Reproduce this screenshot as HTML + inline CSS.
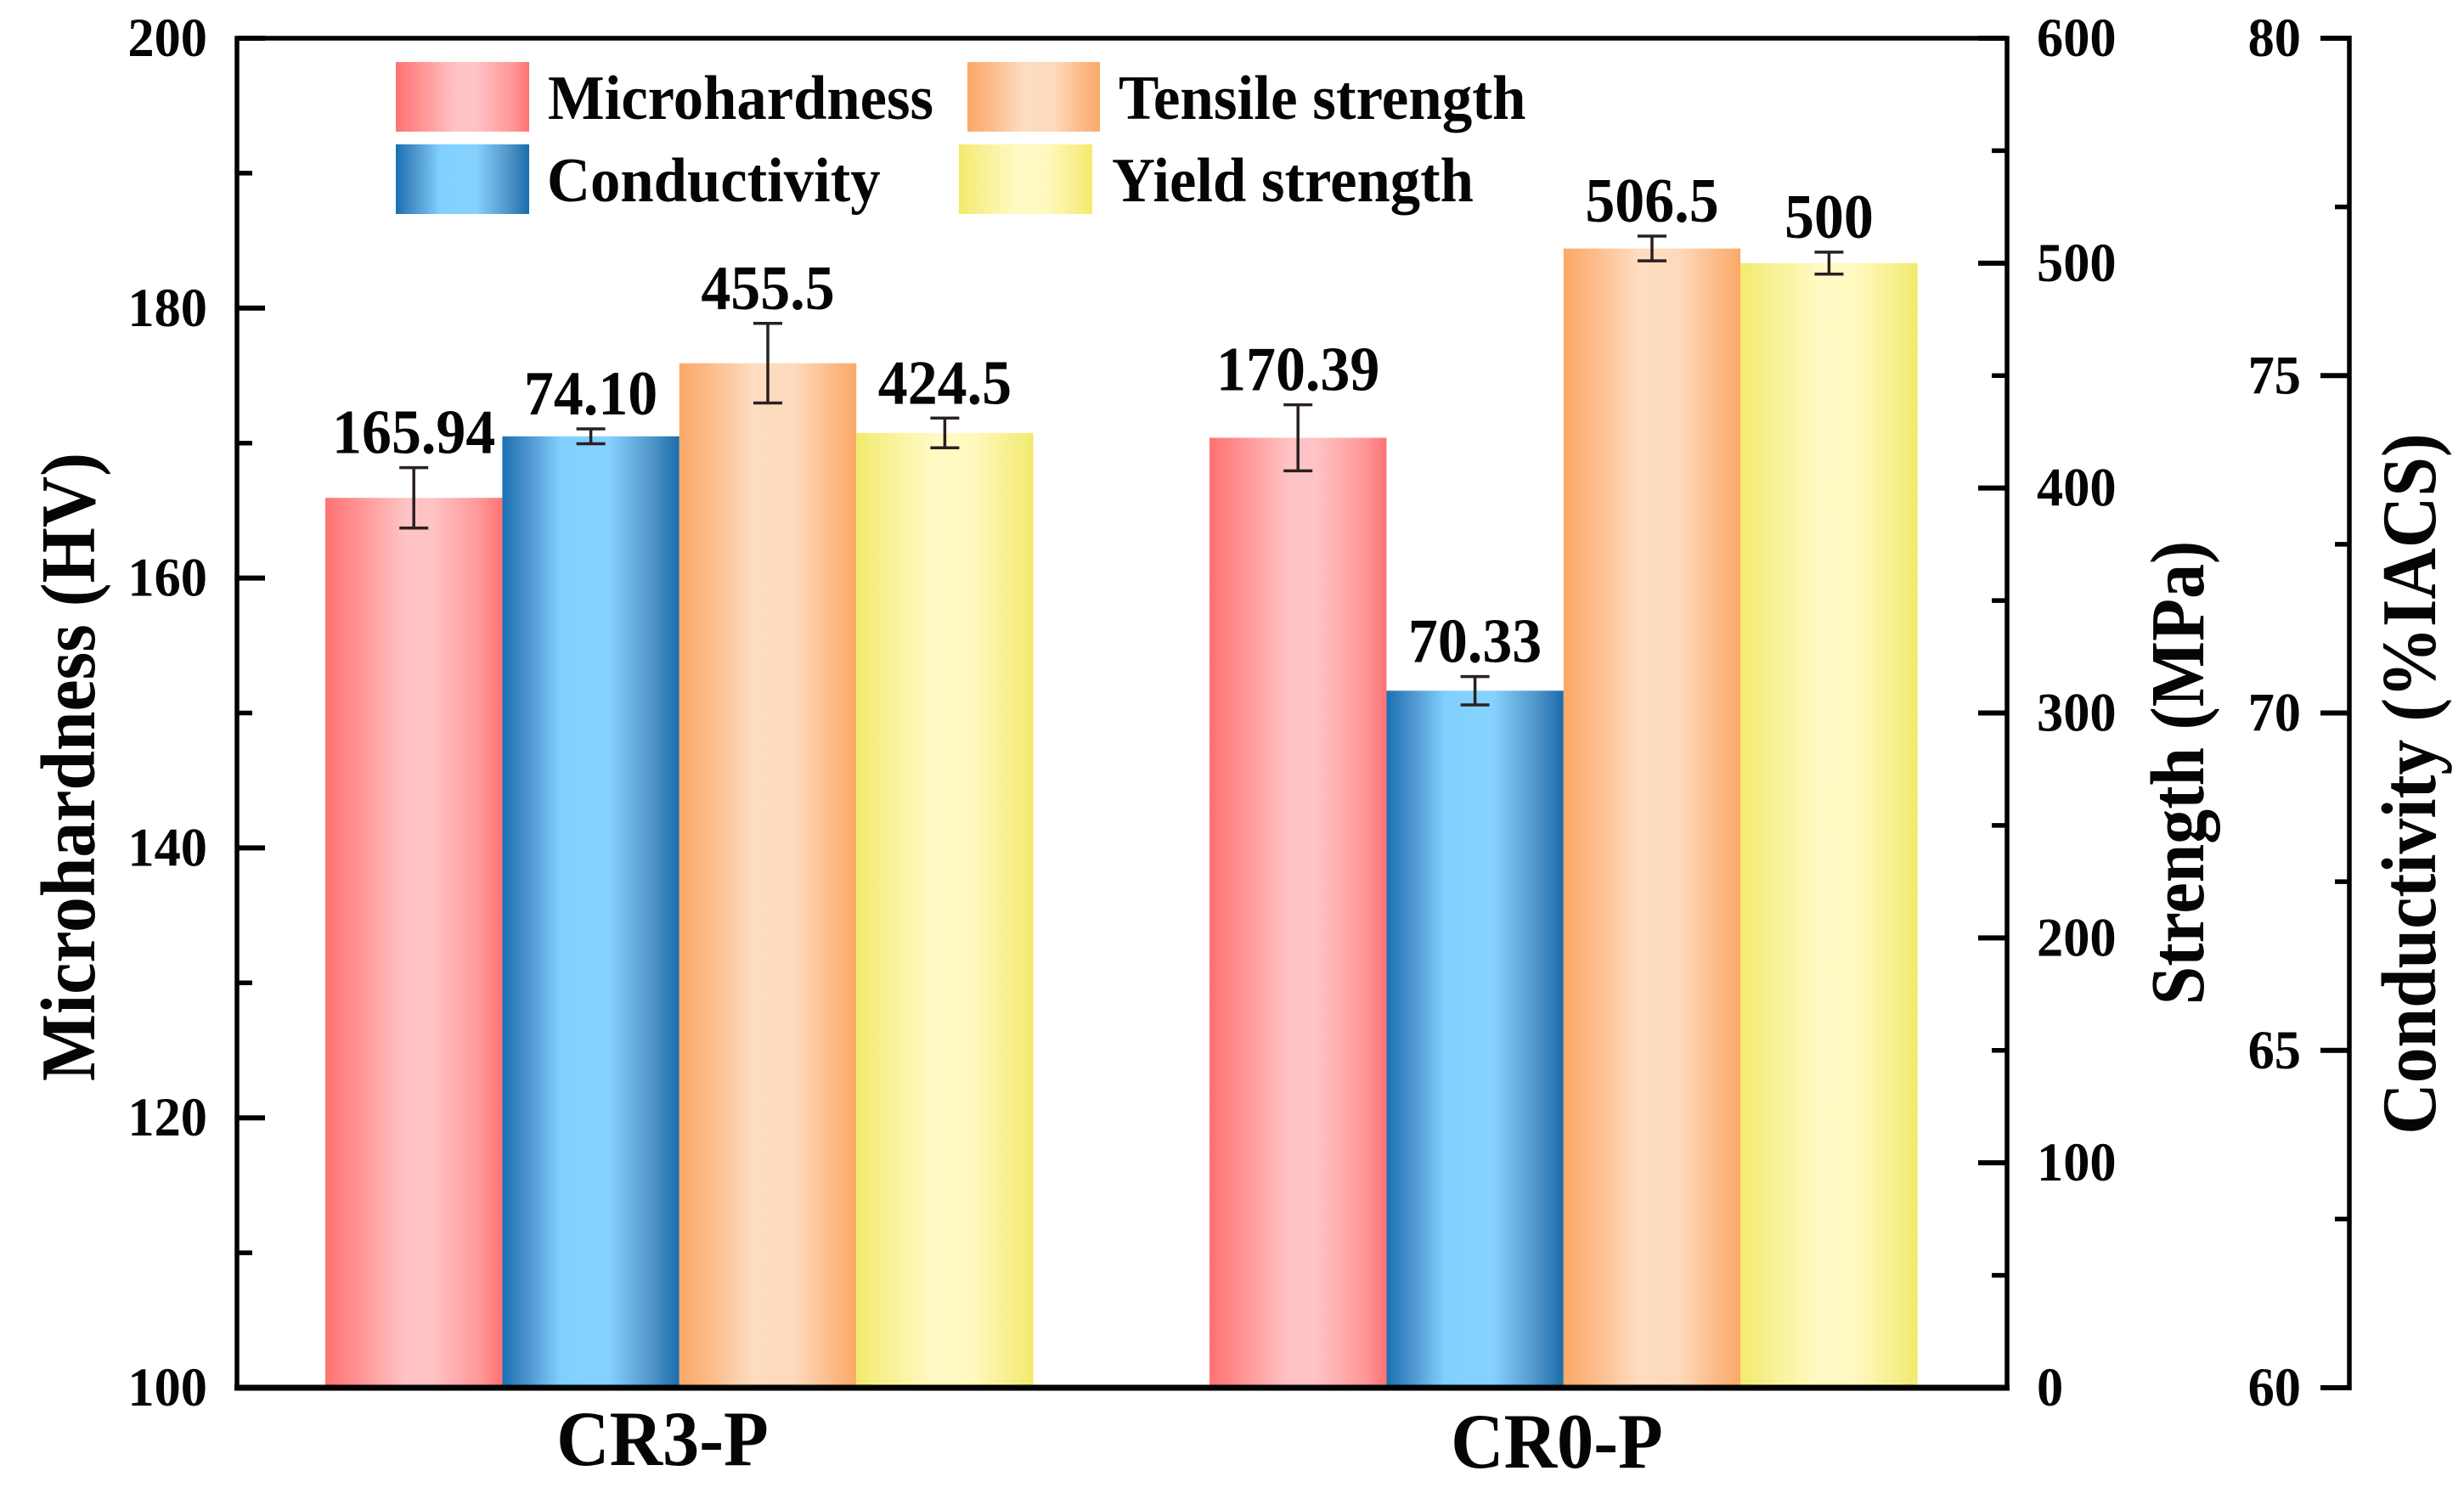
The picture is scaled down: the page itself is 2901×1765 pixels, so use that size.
<!DOCTYPE html>
<html lang="en">
<head>
<meta charset="utf-8">
<title>Microhardness, conductivity and strength of CR3-P and CR0-P</title>
<style>
  html, body { margin: 0; padding: 0; background: #ffffff; }
  svg { display: block; }
  text { font-family: "Liberation Serif", serif; font-weight: bold; fill: #050505; }
</style>
</head>
<body>
<svg id="chart" xmlns="http://www.w3.org/2000/svg" width="2901" height="1765" viewBox="0 0 2901 1765">
  <defs>
    <linearGradient id="grad-red" x1="0" x2="1" y1="0" y2="0">
      <stop offset="0" stop-color="#ff7272"/><stop offset="0.15" stop-color="#ff8c8c"/><stop offset="0.45" stop-color="#ffc3c5"/><stop offset="0.6" stop-color="#ffc3c5"/><stop offset="0.88" stop-color="#ff9696"/><stop offset="1" stop-color="#ff7272"/>
    </linearGradient>
    <linearGradient id="grad-blue" x1="0" x2="1" y1="0" y2="0">
      <stop offset="0" stop-color="#1a70b2"/><stop offset="0.15" stop-color="#4f96cf"/><stop offset="0.33" stop-color="#80d0ff"/><stop offset="0.6" stop-color="#86d2ff"/><stop offset="0.85" stop-color="#4f94c8"/><stop offset="1" stop-color="#1a6cab"/>
    </linearGradient>
    <linearGradient id="grad-orange" x1="0" x2="1" y1="0" y2="0">
      <stop offset="0" stop-color="#fba968"/><stop offset="0.15" stop-color="#fcb884"/><stop offset="0.42" stop-color="#fddcc0"/><stop offset="0.65" stop-color="#fddabc"/><stop offset="0.88" stop-color="#fcb884"/><stop offset="1" stop-color="#fba968"/>
    </linearGradient>
    <linearGradient id="grad-yellow" x1="0" x2="1" y1="0" y2="0">
      <stop offset="0" stop-color="#f3ea6c"/><stop offset="0.15" stop-color="#f7f08f"/><stop offset="0.45" stop-color="#fffac6"/><stop offset="0.65" stop-color="#fff9bf"/><stop offset="0.88" stop-color="#f7ef8c"/><stop offset="1" stop-color="#f3ea6c"/>
    </linearGradient>
  </defs>

  <rect x="0" y="0" width="2901" height="1765" fill="#ffffff"/>

  <g id="bars"></g>
  <g id="error-bars"></g>
  <g id="value-labels"></g>
  <g id="axes"></g>

  <g>
    <g>
      <rect x="466" y="73" width="157" height="82" fill="url(#grad-red)"/>
      <text font-size="74" transform="translate(645 140) scale(0.955 1)">Microhardness</text>
    </g>
    <g>
      <rect x="466" y="170" width="157" height="82" fill="url(#grad-blue)"/>
      <text font-size="74" transform="translate(644 237) scale(0.955 1)">Conductivity</text>
    </g>
    <g>
      <rect x="1139" y="73" width="156" height="82" fill="url(#grad-orange)"/>
      <text font-size="74" transform="translate(1317 140) scale(0.96 1)">Tensile strength</text>
    </g>
    <g>
      <rect x="1129" y="170" width="157" height="82" fill="url(#grad-yellow)"/>
      <text font-size="74" transform="translate(1309 237) scale(0.955 1)">Yield strength</text>
    </g>
  </g>

  <text font-size="91" text-anchor="middle" transform="translate(111 903) rotate(-90) scale(0.92 1)">Microhardness (HV)</text>
  <text font-size="90" text-anchor="middle" transform="translate(2594 910) rotate(-90) scale(0.91 1)">Strength (MPa)</text>
  <text font-size="91" text-anchor="middle" transform="translate(2867 923) rotate(-90) scale(0.92 1)">Conductivity (%IACS)</text>
</svg>

<script>
const categories = ['CR3-P', 'CR0-P'];

const microhardness = [165.94, 170.39];
const conductivity = [74.10, 70.33];
const tensileStrength = [455.5, 506.5];
const yieldStrength = [424.5, 500];

const microhardnessError = [2.24, 2.45];
const conductivityError = [0.11, 0.21];
const tensileStrengthError = [17.7, 5.5];
const yieldStrengthError = [6.6, 4.9];

const microhardnessLabels = ['165.94', '170.39'];
const conductivityLabels = ['74.10', '70.33'];
const tensileStrengthLabels = ['455.5', '506.5'];
const yieldStrengthLabels = ['424.5', '500'];

const hardnessTicks = [100, 120, 140, 160, 180, 200];
const hardnessMinorTicks = [110, 130, 150, 170, 190];
const strengthTicks = [0, 100, 200, 300, 400, 500, 600];
const strengthMinorTicks = [50, 150, 250, 350, 450, 550];
const conductivityTicks = [60, 65, 70, 75, 80];
const conductivityMinorTicks = [62.5, 67.5, 72.5, 77.5];

const SVG_NS = 'http://www.w3.org/2000/svg';
const plotLeft = 279, plotRight = 2363, plotTop = 45, plotBottom = 1634, farAxisX = 2766;
const groupStarts = [383, 1424];
const barWidth = 208.4;

function linearScale(min, max) {
  return function (v) { return plotBottom - (v - min) / (max - min) * (plotBottom - plotTop); };
}
const yHardness = linearScale(100, 200);
const yStrength = linearScale(0, 600);
const yConductivity = linearScale(60, 80);

function shape(parent, tag, attrs, content) {
  const el = document.createElementNS(SVG_NS, tag);
  Object.keys(attrs).forEach(function (k) { el.setAttribute(k, attrs[k]); });
  if (content !== undefined) el.textContent = content;
  parent.appendChild(el);
  return el;
}

const barsLayer = document.getElementById('bars');
const errorLayer = document.getElementById('error-bars');
const labelLayer = document.getElementById('value-labels');
const axesLayer = document.getElementById('axes');

const seriesList = [
  { key: 'microhardness', values: microhardness, errors: microhardnessError, labels: microhardnessLabels, y: yHardness, fill: 'url(#grad-red)' },
  { key: 'conductivity', values: conductivity, errors: conductivityError, labels: conductivityLabels, y: yConductivity, fill: 'url(#grad-blue)' },
  { key: 'tensile-strength', values: tensileStrength, errors: tensileStrengthError, labels: tensileStrengthLabels, y: yStrength, fill: 'url(#grad-orange)' },
  { key: 'yield-strength', values: yieldStrength, errors: yieldStrengthError, labels: yieldStrengthLabels, y: yStrength, fill: 'url(#grad-yellow)' }
];

seriesList.forEach(function (series, s) {
  categories.forEach(function (category, c) {
    const x = groupStarts[c] + s * barWidth;
    const cx = x + barWidth / 2;
    const value = series.values[c];
    const err = series.errors[c];
    const top = series.y(value);
    const errTop = series.y(value + err);
    const errBottom = series.y(value - err);

    const bar = shape(barsLayer, 'rect', { x: x, y: top, width: barWidth, height: plotBottom - top, fill: series.fill });
    
    

    const whisker = shape(errorLayer, 'path', {
      d: 'M' + (cx - 17) + ' ' + errTop + 'H' + (cx + 17) + 'M' + cx + ' ' + errTop + 'V' + errBottom + 'M' + (cx - 17) + ' ' + errBottom + 'H' + (cx + 17),
      stroke: '#2a2020', 'stroke-width': 3.5, fill: 'none'
    });
    
    

    const label = shape(labelLayer, 'text', {
      'font-size': 74, 'text-anchor': 'middle',
      transform: 'translate(' + cx + ' ' + (errTop - 17) + ') scale(0.945 1)'
    }, series.labels[c]);
    
    
  });
});

const frame = shape(axesLayer, 'path', {
  d: 'M' + plotLeft + ' ' + plotBottom + 'V' + plotTop + 'H' + plotRight + 'V' + plotBottom,
  stroke: '#000', 'stroke-width': 5.5, fill: 'none', 'stroke-linecap': 'square'
});



const xAxisLine = shape(axesLayer, 'line', { x1: plotLeft - 3, x2: plotRight + 3, y1: plotBottom, y2: plotBottom, stroke: '#000', 'stroke-width': 7 });



const farAxis = shape(axesLayer, 'line', { x1: farAxisX, x2: farAxisX, y1: plotTop - 3, y2: plotBottom + 3, stroke: '#000', 'stroke-width': 5.5 });



function drawTicks(ticks, y, axisX, direction, length) {
  ticks.forEach(function (t) {
    const tick = shape(axesLayer, 'line', { x1: axisX, x2: axisX + direction * length, y1: y(t), y2: y(t), stroke: '#000', 'stroke-width': length > 25 ? 6 : 5.5 });
    
    
  });
}
function drawTickLabels(ticks, y, x, anchor) {
  ticks.forEach(function (t) {
    const label = shape(axesLayer, 'text', {
      'font-size': 65, 'text-anchor': anchor,
      transform: 'translate(' + x + ' ' + (y(t) + 21) + ') scale(0.96 1)'
    }, String(t));
    
    
  });
}

drawTicks(hardnessTicks, yHardness, plotLeft, 1, 33);
drawTicks(hardnessMinorTicks, yHardness, plotLeft, 1, 18);
drawTickLabels(hardnessTicks, yHardness, 244, 'end');

drawTicks(strengthTicks, yStrength, plotRight, -1, 34);
drawTicks(strengthMinorTicks, yStrength, plotRight, -1, 18);
drawTickLabels(strengthTicks, yStrength, 2398, 'start');

drawTicks(conductivityTicks, yConductivity, farAxisX, -1, 34);
drawTicks(conductivityMinorTicks, yConductivity, farAxisX, -1, 17);
drawTickLabels(conductivityTicks, yConductivity, 2709, 'end');

const categoryCenters = [780, 1833];
categories.forEach(function (category, c) {
  const label = shape(axesLayer, 'text', {
    'font-size': 92, 'text-anchor': 'middle',
    transform: 'translate(' + categoryCenters[c] + ' ' + (1725 + c * 3) + ') scale(0.94 1)'
  }, category);
  
  
});
</script>
</body>
</html>
